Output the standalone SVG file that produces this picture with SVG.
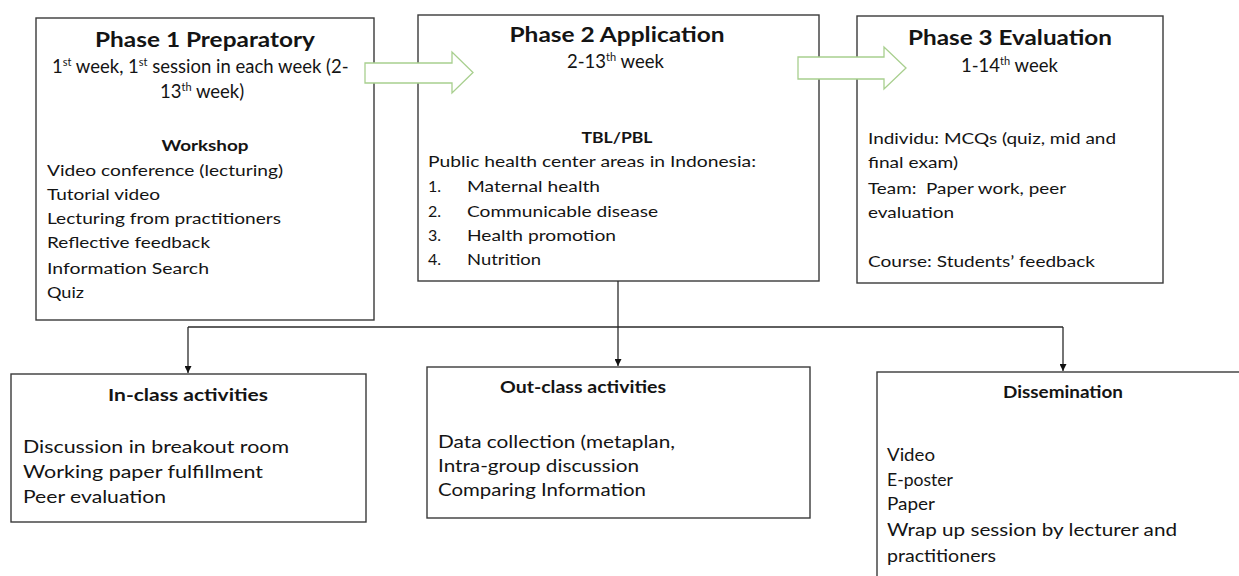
<svg xmlns="http://www.w3.org/2000/svg" width="1239" height="576" viewBox="0 0 1239 576">
<defs>
<style>
.box{fill:#fff;stroke:#3a3a3a;stroke-width:1.4}
.t{font-family:Lato,"Open Sans","Liberation Sans",sans-serif;fill:#141414}
.h{font-weight:bold;font-size:20px}
.hs{font-weight:bold;font-size:16px}
.b{font-size:16px}
.sub{font-size:18.5px}
.bb{font-size:18px}
.bh{font-weight:bold;font-size:17px}
.sup{font-size:11px}
.conn{fill:none;stroke:#2a2a2a;stroke-width:1.3}
.garrow{fill:#fff;stroke:#a8cf8e;stroke-width:1.3}
</style>
<marker id="ah" viewBox="0 0 10 10" refX="10" refY="5" markerWidth="7" markerHeight="7" markerUnits="userSpaceOnUse" orient="auto">
<path d="M0,0 L10,5 L0,10 z" fill="#111"/>
</marker>
</defs>

<g id="phase1">
<rect class="box" x="36" y="18" width="338" height="302"/>
<text class="t h" x="205" y="47" text-anchor="middle" textLength="220" lengthAdjust="spacingAndGlyphs">Phase 1 Preparatory</text>
<text class="t sub" x="52" y="73">1<tspan class="sup" dy="-7">st</tspan><tspan dy="7"> week, 1</tspan><tspan class="sup" dy="-7">st</tspan><tspan dy="7"> session in each week (2-</tspan></text>
<text class="t sub" x="160" y="98">13<tspan class="sup" dy="-7">th</tspan><tspan dy="7"> week)</tspan></text>
<text class="t hs" x="205" y="151" text-anchor="middle" textLength="87" lengthAdjust="spacingAndGlyphs">Workshop</text>
<text class="t b" x="47" y="176" textLength="236" lengthAdjust="spacingAndGlyphs">Video conference (lecturing)</text>
<text class="t b" x="47" y="200" textLength="113" lengthAdjust="spacingAndGlyphs">Tutorial video</text>
<text class="t b" x="47" y="224" textLength="234" lengthAdjust="spacingAndGlyphs">Lecturing from practitioners</text>
<text class="t b" x="47" y="248" textLength="163" lengthAdjust="spacingAndGlyphs">Reflective feedback</text>
<text class="t b" x="47" y="274" textLength="162" lengthAdjust="spacingAndGlyphs">Information Search</text>
<text class="t b" x="47" y="298" textLength="37" lengthAdjust="spacingAndGlyphs">Quiz</text>
</g>

<g id="phase2">
<rect class="box" x="418" y="15" width="401" height="266"/>
<text class="t h" x="617" y="42" text-anchor="middle" textLength="215" lengthAdjust="spacingAndGlyphs">Phase 2 Application</text>
<text class="t sub" x="567" y="68">2-13<tspan class="sup" dy="-7">th</tspan><tspan dy="7"> week</tspan></text>
<text class="t hs" x="617" y="143" text-anchor="middle" textLength="71" lengthAdjust="spacingAndGlyphs">TBL/PBL</text>
<text class="t b" x="428" y="167" textLength="328" lengthAdjust="spacingAndGlyphs">Public health center areas in Indonesia:</text>
<text class="t b" x="428" y="192">1.</text>
<text class="t b" x="467" y="192" textLength="133" lengthAdjust="spacingAndGlyphs">Maternal health</text>
<text class="t b" x="428" y="217">2.</text>
<text class="t b" x="467" y="217" textLength="191" lengthAdjust="spacingAndGlyphs">Communicable disease</text>
<text class="t b" x="428" y="241">3.</text>
<text class="t b" x="467" y="241" textLength="149" lengthAdjust="spacingAndGlyphs">Health promotion</text>
<text class="t b" x="428" y="265">4.</text>
<text class="t b" x="467" y="265" textLength="74" lengthAdjust="spacingAndGlyphs">Nutrition</text>
</g>

<g id="phase3">
<rect class="box" x="857" y="16" width="306" height="267"/>
<text class="t h" x="1010" y="45" text-anchor="middle" textLength="204" lengthAdjust="spacingAndGlyphs">Phase 3 Evaluation</text>
<text class="t sub" x="961" y="72">1-14<tspan class="sup" dy="-7">th</tspan><tspan dy="7"> week</tspan></text>
<text class="t b" x="868" y="144" textLength="248" lengthAdjust="spacingAndGlyphs">Individu: MCQs (quiz, mid and</text>
<text class="t b" x="868" y="168" textLength="90" lengthAdjust="spacingAndGlyphs">final exam)</text>
<text class="t b" x="868" y="194" textLength="198" lengthAdjust="spacingAndGlyphs" xml:space="preserve">Team:  Paper work, peer</text>
<text class="t b" x="868" y="218" textLength="86" lengthAdjust="spacingAndGlyphs">evaluation</text>
<text class="t b" x="868" y="267" textLength="227" lengthAdjust="spacingAndGlyphs">Course: Students’ feedback</text>
</g>

<g id="phase-arrows">
<path class="garrow" d="M365,63 L452,63 L452,52 L473,72.5 L452,93 L452,83 L365,83 Z"/>
<path class="garrow" d="M798,57 L884,57 L884,47 L906,68 L884,89 L884,79 L798,79 Z"/>
</g>

<g id="inclass">
<rect class="box" x="11" y="374" width="355" height="148"/>
<text class="t bh" x="188" y="401" text-anchor="middle" textLength="160" lengthAdjust="spacingAndGlyphs">In-class activities</text>
<text class="t bb" x="23" y="453" textLength="266" lengthAdjust="spacingAndGlyphs">Discussion in breakout room</text>
<text class="t bb" x="23" y="478" textLength="240" lengthAdjust="spacingAndGlyphs">Working paper fulfillment</text>
<text class="t bb" x="23" y="503" textLength="143" lengthAdjust="spacingAndGlyphs">Peer evaluation</text>
</g>

<g id="outclass">
<rect class="box" x="427" y="367" width="383" height="151"/>
<text class="t bh" x="583" y="393" text-anchor="middle" textLength="166" lengthAdjust="spacingAndGlyphs">Out-class activities</text>
<text class="t bb" x="438" y="448" textLength="237" lengthAdjust="spacingAndGlyphs">Data collection (metaplan,</text>
<text class="t bb" x="438" y="472" textLength="201" lengthAdjust="spacingAndGlyphs">Intra-group discussion</text>
<text class="t bb" x="438" y="496" textLength="208" lengthAdjust="spacingAndGlyphs">Comparing Information</text>
</g>

<g id="dissemination">
<rect class="box" x="877" y="372" width="370" height="220"/>
<text class="t bh" x="1063" y="398" text-anchor="middle" textLength="120" lengthAdjust="spacingAndGlyphs">Dissemination</text>
<text class="t bb" x="887" y="461" textLength="48" lengthAdjust="spacingAndGlyphs">Video</text>
<text class="t bb" x="887" y="486" textLength="66" lengthAdjust="spacingAndGlyphs">E-poster</text>
<text class="t bb" x="887" y="510" textLength="48" lengthAdjust="spacingAndGlyphs">Paper</text>
<text class="t bb" x="887" y="536" textLength="290" lengthAdjust="spacingAndGlyphs">Wrap up session by lecturer and</text>
<text class="t bb" x="887" y="562" textLength="109" lengthAdjust="spacingAndGlyphs">practitioners</text>
</g>

<g id="connectors">
<path class="conn" d="M618,281 L618,366" marker-end="url(#ah)"/>
<path class="conn" d="M188,327 L1063,327"/>
<path class="conn" d="M188,327 L188,373" marker-end="url(#ah)"/>
<path class="conn" d="M1063,327 L1063,371" marker-end="url(#ah)"/>
</g>
</svg>
